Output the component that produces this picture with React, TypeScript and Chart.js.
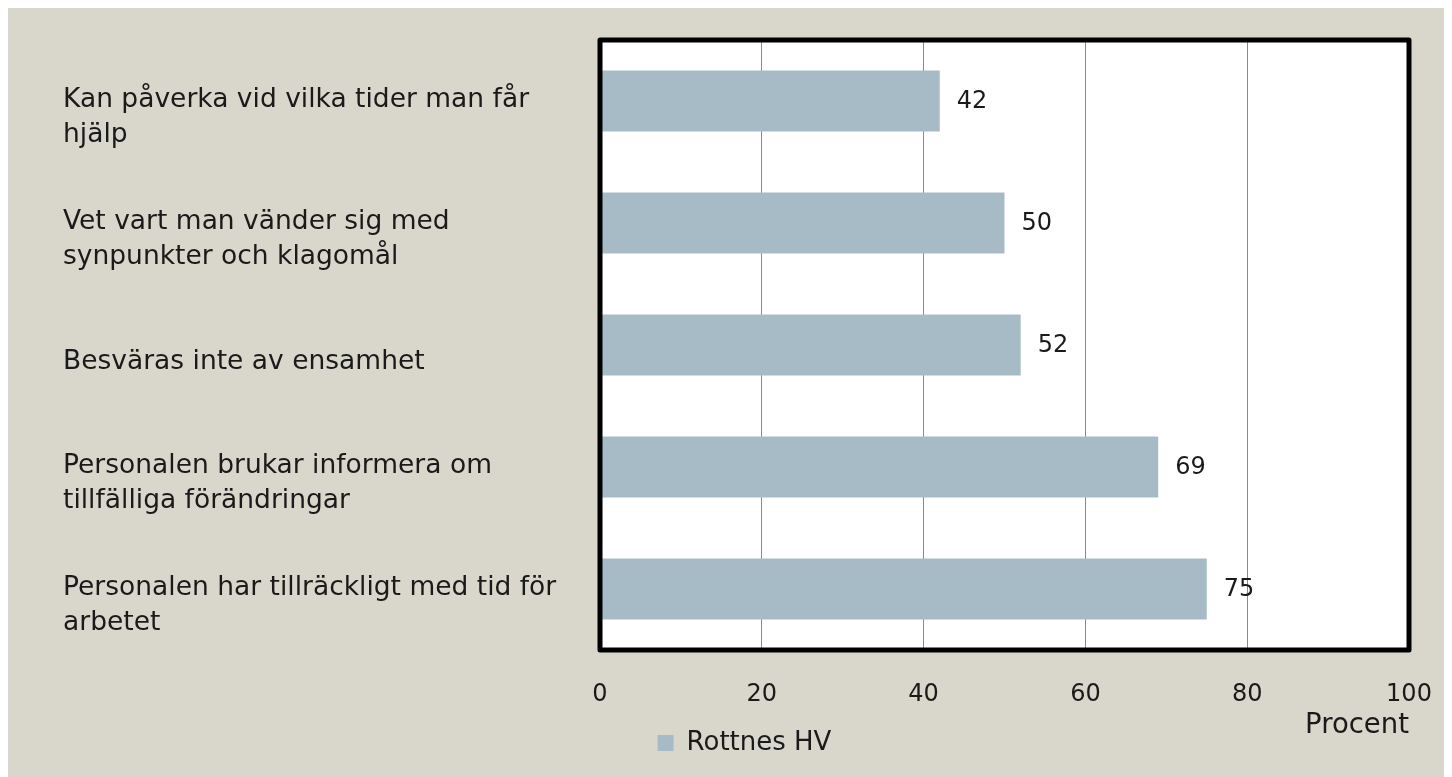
import React, { useEffect, useRef } from "react";
import { Chart, registerables } from "chart.js";

Chart.register(...registerables);

const categoryLabels: string[][] = [
  ["Kan påverka vid vilka tider man får", "hjälp"],
  ["Vet vart man vänder sig med", "synpunkter och klagomål"],
  ["Besväras inte av ensamhet"],
  ["Personalen brukar informera om", "tillfälliga förändringar"],
  ["Personalen har tillräckligt med tid för", "arbetet"],
];
const seriesName = "Rottnes HV";
const seriesValues = [42, 50, 52, 69, 75];
const xTickValues = [0, 20, 40, 60, 80, 100];
const xAxisTitle = "Procent";

const FONT = "'DejaVu Sans', sans-serif";
const BG = "#D9D7CB";
const BAR = "#A7BBC6";
const TEXT = "#1a1a1a";

const customPlugin = {
  id: "custom",
  beforeDraw(chart: any) {
    const { ctx, chartArea: a, width, height } = chart;
    ctx.save();
    ctx.fillStyle = BG;
    ctx.fillRect(0, 0, width, height);
    ctx.fillStyle = "#ffffff";
    ctx.fillRect(a.left, a.top, a.right - a.left, a.bottom - a.top);
    ctx.restore();
  },
  afterDatasetsDraw(chart: any) {
    const { ctx, chartArea: a } = chart;
    const yScale = chart.scales.y;
    ctx.save();
    // border
    ctx.strokeStyle = "#000000";
    ctx.lineWidth = 5;
    ctx.lineJoin = "round";
    ctx.strokeRect(a.left, a.top, a.right - a.left, a.bottom - a.top);
    // value labels
    ctx.fillStyle = TEXT;
    ctx.font = `24px ${FONT}`;
    ctx.textAlign = "left";
    ctx.textBaseline = "middle";
    const meta = chart.getDatasetMeta(0);
    meta.data.forEach((bar: any, i: number) => {
      ctx.fillText(String(seriesValues[i]), bar.x + 17, bar.y + 1);
    });
    // category labels
    ctx.font = `26.5px ${FONT}`;
    const lineH = 35;
    categoryLabels.forEach((lines, i) => {
      const cy = yScale.getPixelForValue(i) + 17;
      const startY = cy - ((lines.length - 1) * lineH) / 2;
      lines.forEach((ln, j) => {
        ctx.fillText(ln, 55, startY + j * lineH);
      });
    });
    ctx.restore();
  },
};

export default function App() {
  const ref = useRef<HTMLCanvasElement | null>(null);
  useEffect(() => {
    document.body.style.overflow = "hidden";
    const canvas = ref.current!;
    const chart = new Chart(canvas, {
      type: "bar",
      data: {
        labels: categoryLabels.map((l) => l.join(" ")),
        datasets: [
          {
            label: seriesName,
            data: seriesValues,
            backgroundColor: BAR,
            borderWidth: 0,
            barPercentage: 0.5,
            categoryPercentage: 1,
          },
        ],
      },
      options: {
        indexAxis: "y",
        responsive: false,
        animation: false,
        devicePixelRatio: 1,
        layout: { padding: { left: 72, right: 43, top: 32, bottom: 11 } },
        plugins: {
          tooltip: { enabled: false },
          legend: {
            display: true,
            position: "bottom",
            align: "center",
            labels: {
              boxWidth: 16,
              boxHeight: 16,
              color: TEXT,
              padding: 10,
              font: { family: FONT, size: 26 },
            },
          },
        },
        scales: {
          x: {
            min: 0,
            max: 100,
            afterBuildTicks(scale: any) {
              scale.ticks = xTickValues.map((v) => ({ value: v }));
            },
            afterFit(scale: any) {
              scale.height = 70;
              scale.paddingLeft = 0;
              scale.paddingRight = 0;
            },
            grid: {
              display: true,
              color: (c: any) =>
                c.tick && (c.tick.value === 0 || c.tick.value === 100)
                  ? "rgba(0,0,0,0)"
                  : "#8a8a8a",
              lineWidth: 1,
              drawTicks: false,
            },
            border: { display: false },
            ticks: {
              color: TEXT,
              padding: 30,
              font: { family: FONT, size: 24 },
            },
            title: {
              display: true,
              text: xAxisTitle,
              align: "end",
              color: TEXT,
              font: { family: FONT, size: 27.5 },
              padding: { top: 0, bottom: -22 },
            },
          },
          y: {
            display: true,
            afterFit(scale: any) {
              scale.width = 520;
            },
            grid: { display: false },
            border: { display: false },
            ticks: { display: false },
          },
        },
      },
      plugins: [customPlugin],
    } as any);
    return () => chart.destroy();
  }, []);
  return (
    <canvas
      ref={ref}
      width={1444}
      height={769}
      style={{ display: "block", width: 1444, height: 769 }}
    />
  );
}
